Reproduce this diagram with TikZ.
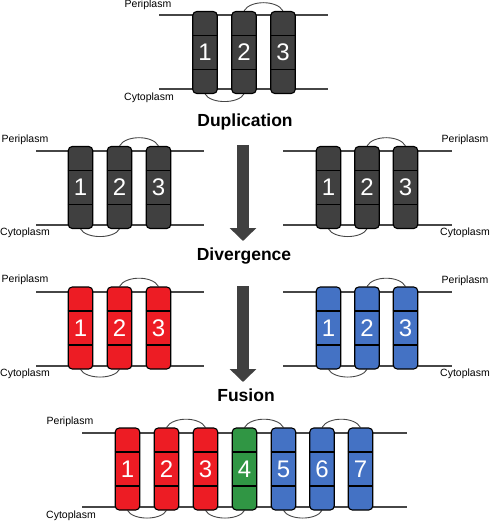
\documentclass[tikz,border=0pt]{standalone}
\usepackage{fontspec}
\setmainfont{Liberation Sans}
\usetikzlibrary{arrows.meta,backgrounds}

\definecolor{helixgray}{RGB}{64,64,64}
\definecolor{helixred}{RGB}{237,28,36}
\definecolor{helixgreen}{RGB}{48,150,68}
\definecolor{helixblue}{RGB}{68,114,196}
\definecolor{linegray}{RGB}{70,70,70}

\tikzset{
  helix/.style={draw=black, line width=1.1pt, rounded corners=4pt,
    minimum width=24.5pt, minimum height=82pt, inner sep=0pt,
    text=white, font=\fontsize{24}{24}\selectfont},
  membrane/.style={draw=linegray, line width=1.1pt},
  loopline/.style={draw=linegray, line width=0.9pt},
  sidetext/.style={font=\fontsize{10.5}{12}\selectfont, inner sep=0pt},
  steptext/.style={font=\fontsize{17.5}{20}\selectfont\bfseries, inner sep=0pt},
  bigarrow/.style={draw=helixgray, line width=12pt,
    -{Triangle[width=26pt,length=13pt]}}
}

% helix with two dividers: name, x, y, colour, number
\newcommand{\tmhelix}[5]{%
  \node[helix, fill=#4] (#1) at (#2,#3) {#5};
  \draw[line width=1.1pt] ([yshift=17pt]#1.west) -- ([yshift=17pt]#1.east)
    ([yshift=-17pt]#1.west) -- ([yshift=-17pt]#1.east);}

\begin{document}
\begin{tikzpicture}[x=1pt,y=-1pt]
\useasboundingbox (0,0) rectangle (489,521);

% original
\foreach \n/\x in {1/205,2/244,3/283} {\tmhelix{A\n}{\x}{52.5}{helixgray}{\n}}
\node[sidetext] (Aperi) at (148,5) {Periplasm};
\node[sidetext] (Acyto) at (149,98) {Cytoplasm};
\node[steptext] (dup) at (245,122) {Duplication};

% duplicated pair
\foreach \n/\x in {1/80.5,2/119.5,3/158.5} {\tmhelix{BL\n}{\x}{187.5}{helixgray}{\n}}
\foreach \n/\x in {1/328.5,2/367,3/405.5} {\tmhelix{BR\n}{\x}{187.5}{helixgray}{\n}}
\node[sidetext] (BLperi) at (25,139.5) {Periplasm};
\node[sidetext] (BLcyto) at (25,233) {Cytoplasm};
\node[sidetext] (BRperi) at (465,139.5) {Periplasm};
\node[sidetext] (BRcyto) at (465,233) {Cytoplasm};
\node[steptext] (div) at (244,256) {Divergence};

% diverged pair
\foreach \n/\x in {1/80.5,2/119.5,3/158.5} {\tmhelix{CL\n}{\x}{328}{helixred}{\n}}
\foreach \n/\x in {1/328.5,2/367,3/405.5} {\tmhelix{CR\n}{\x}{328}{helixblue}{\n}}
\node[sidetext] (CLperi) at (25,280) {Periplasm};
\node[sidetext] (CLcyto) at (25,374) {Cytoplasm};
\node[sidetext] (CRperi) at (465,281) {Periplasm};
\node[sidetext] (CRcyto) at (465,374) {Cytoplasm};
\node[steptext] (fus) at (246,395) {Fusion};

% fused
\foreach \n/\x/\c in {1/127.5/helixred,2/166.5/helixred,3/205.5/helixred,
  4/244.5/helixgreen,5/283.5/helixblue,6/322/helixblue,7/360.5/helixblue}
  {\tmhelix{D\n}{\x}{469}{\c}{\n}}
\node[sidetext] (Dperi) at (70,422) {Periplasm};
\node[sidetext] (Dcyto) at (71,516) {Cytoplasm};

% arrows
\coordinate (arrAtop) at (243,145);
\coordinate (arrAtip) at (243,241);
\coordinate (arrBtop) at (243,286);
\coordinate (arrBtip) at (243,382);
\draw[bigarrow] (arrAtop) -- (arrAtip);
\draw[bigarrow] (arrBtop) -- (arrBtip);

\begin{scope}[on background layer]
% membranes
\draw[membrane] (159,15) -- (328,15) (159,89) -- (328,89);
\draw[membrane] (36,151) -- (204,151) (36,225) -- (204,225);
\draw[membrane] (283,151) -- (452,151) (283,225) -- (452,225);
\draw[membrane] (36,292) -- (204,292) (36,366) -- (204,366);
\draw[membrane] (283,292) -- (452,292) (283,366) -- (452,366);
\draw[membrane] (82,433) -- (407,433) (82,507) -- (407,507);
% loops
\foreach \g in {A,BL,BR,CL,CR} {
  \draw[loopline] (\g2.north) .. controls +(6,-11) and +(-6,-11) .. (\g3.north);
  \draw[loopline] (\g1.south) .. controls +(6,10) and +(-6,10) .. (\g2.south);
}
\foreach \a/\b in {2/3,4/5,6/7}
  \draw[loopline] (D\a.north) .. controls +(6,-11) and +(-6,-11) .. (D\b.north);
\foreach \a/\b in {1/2,3/4,5/6}
  \draw[loopline] (D\a.south) .. controls +(6,10) and +(-6,10) .. (D\b.south);
\end{scope}
\end{tikzpicture}
\end{document}
